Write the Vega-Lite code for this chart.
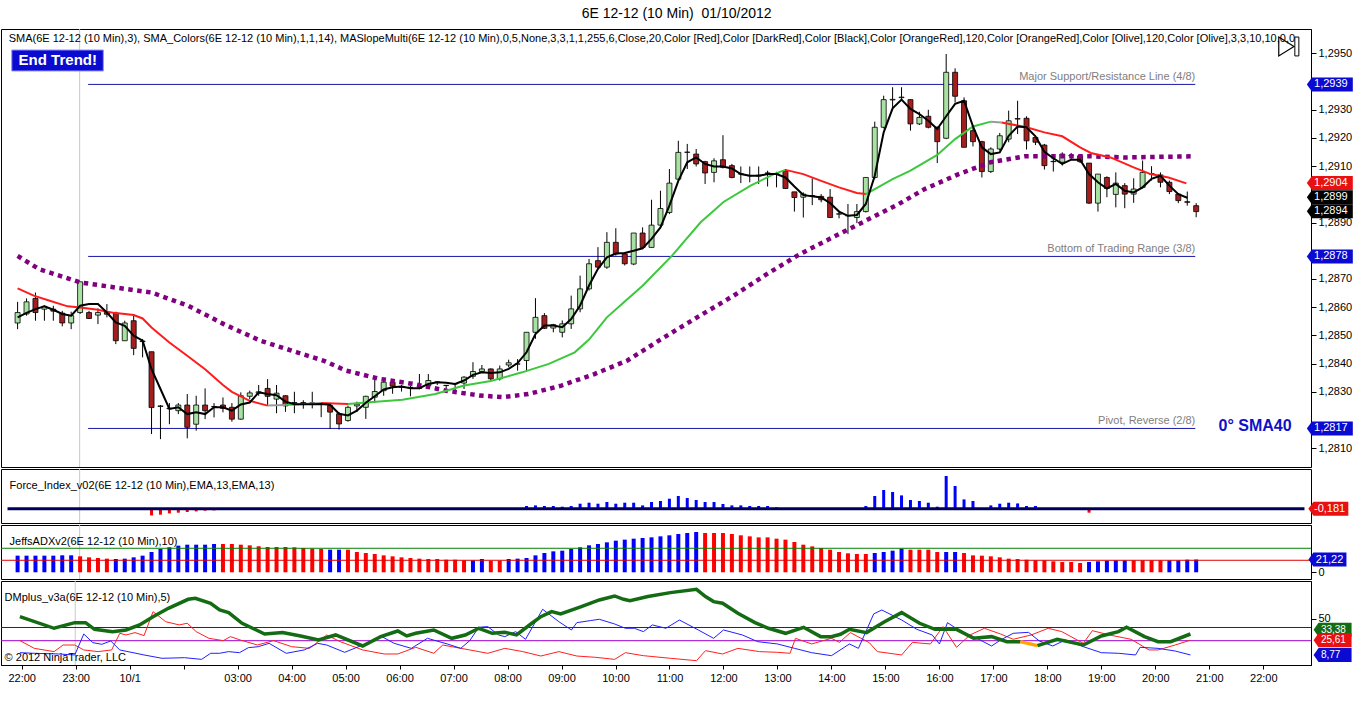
{
  "$schema": "https://vega.github.io/schema/vega-lite/v6.json",
  "background": "#ffffff",
  "padding": {"left": 0, "top": 7, "right": 0, "bottom": 0},
  "title": {"text": "6E 12-12 (10 Min)\u00a0 01/10/2012", "font": "Liberation Sans", "fontSize": 14, "fontWeight": "normal", "color": "#000000", "anchor": "middle", "offset": 7},
  "spacing": 0,
  "config": {
    "view": {"stroke": "#000000", "strokeWidth": 1},
    "concat": {"spacing": 0},
    "axis": {"labelFont": "Liberation Sans", "labelFontSize": 11, "labelColor": "#000000", "domainColor": "#000000", "tickColor": "#000000", "grid": false, "tickSize": 5, "labelPadding": 2},
    "text": {"font": "Liberation Sans"}
  },
  "datasets": {
    "candles": [
      {"i":0,"o":1.28544,"h":1.28619,"l":1.28522,"c":1.28581},
      {"i":1,"o":1.28576,"h":1.28631,"l":1.28570,"c":1.28619},
      {"i":2,"o":1.28631,"h":1.28652,"l":1.28552,"c":1.28581},
      {"i":3,"o":1.28593,"h":1.28607,"l":1.28552,"c":1.28603},
      {"i":4,"o":1.28593,"h":1.28605,"l":1.28552,"c":1.28586},
      {"i":5,"o":1.28579,"h":1.28587,"l":1.28532,"c":1.28544},
      {"i":6,"o":1.28544,"h":1.28584,"l":1.28522,"c":1.28570},
      {"i":7,"o":1.28581,"h":1.28690,"l":1.28576,"c":1.28690},
      {"i":8,"o":1.28581,"h":1.28587,"l":1.28558,"c":1.28560},
      {"i":9,"o":1.28572,"h":1.28596,"l":1.28540,"c":1.28581},
      {"i":10,"o":1.28584,"h":1.28611,"l":1.28564,"c":1.28575},
      {"i":11,"o":1.28579,"h":1.28584,"l":1.28469,"c":1.28481},
      {"i":12,"o":1.28481,"h":1.28552,"l":1.28481,"c":1.28544},
      {"i":13,"o":1.28552,"h":1.28575,"l":1.28430,"c":1.28454},
      {"i":14,"o":1.28480,"h":1.28487,"l":1.28422,"c":1.28478},
      {"i":15,"o":1.28442,"h":1.28442,"l":1.28150,"c":1.28244},
      {"i":16,"o":1.28248,"h":1.28253,"l":1.28132,"c":1.28250},
      {"i":17,"o":1.28242,"h":1.28260,"l":1.28185,"c":1.28240},
      {"i":18,"o":1.28233,"h":1.28260,"l":1.28221,"c":1.28253},
      {"i":19,"o":1.28253,"h":1.28292,"l":1.28135,"c":1.28174},
      {"i":20,"o":1.28185,"h":1.28286,"l":1.28162,"c":1.28253},
      {"i":21,"o":1.28253,"h":1.28312,"l":1.28203,"c":1.28233},
      {"i":22,"o":1.28247,"h":1.28260,"l":1.28209,"c":1.28248},
      {"i":23,"o":1.28253,"h":1.28280,"l":1.28227,"c":1.28241},
      {"i":24,"o":1.28245,"h":1.28260,"l":1.28194,"c":1.28203},
      {"i":25,"o":1.28203,"h":1.28298,"l":1.28201,"c":1.28286},
      {"i":26,"o":1.28284,"h":1.28304,"l":1.28274,"c":1.28296},
      {"i":27,"o":1.28295,"h":1.28324,"l":1.28286,"c":1.28300},
      {"i":28,"o":1.28312,"h":1.28345,"l":1.28250,"c":1.28284},
      {"i":29,"o":1.28274,"h":1.28324,"l":1.28224,"c":1.28295},
      {"i":30,"o":1.28286,"h":1.28288,"l":1.28229,"c":1.28250},
      {"i":31,"o":1.28260,"h":1.28300,"l":1.28224,"c":1.28262},
      {"i":32,"o":1.28262,"h":1.28270,"l":1.28240,"c":1.28256},
      {"i":33,"o":1.28260,"h":1.28300,"l":1.28241,"c":1.28261},
      {"i":34,"o":1.28260,"h":1.28262,"l":1.28210,"c":1.28258},
      {"i":35,"o":1.28251,"h":1.28257,"l":1.28168,"c":1.28228},
      {"i":36,"o":1.28222,"h":1.28228,"l":1.28166,"c":1.28186},
      {"i":37,"o":1.28198,"h":1.28251,"l":1.28194,"c":1.28245},
      {"i":38,"o":1.28250,"h":1.28265,"l":1.28228,"c":1.28256},
      {"i":39,"o":1.28245,"h":1.28286,"l":1.28204,"c":1.28284},
      {"i":40,"o":1.28281,"h":1.28346,"l":1.28261,"c":1.28301},
      {"i":41,"o":1.28304,"h":1.28340,"l":1.28286,"c":1.28334},
      {"i":42,"o":1.28334,"h":1.28340,"l":1.28293,"c":1.28320},
      {"i":43,"o":1.28316,"h":1.28324,"l":1.28301,"c":1.28317},
      {"i":44,"o":1.28316,"h":1.28322,"l":1.28284,"c":1.28315},
      {"i":45,"o":1.28312,"h":1.28363,"l":1.28309,"c":1.28313},
      {"i":46,"o":1.28322,"h":1.28363,"l":1.28310,"c":1.28340},
      {"i":47,"o":1.28334,"h":1.28336,"l":1.28324,"c":1.28335},
      {"i":48,"o":1.28322,"h":1.28324,"l":1.28298,"c":1.28323},
      {"i":49,"o":1.28328,"h":1.28328,"l":1.28292,"c":1.28329},
      {"i":50,"o":1.28331,"h":1.28355,"l":1.28310,"c":1.28352},
      {"i":51,"o":1.28355,"h":1.28405,"l":1.28346,"c":1.28372},
      {"i":52,"o":1.28372,"h":1.28395,"l":1.28367,"c":1.28381},
      {"i":53,"o":1.28381,"h":1.28383,"l":1.28340,"c":1.28346},
      {"i":54,"o":1.28346,"h":1.28393,"l":1.28340,"c":1.28381},
      {"i":55,"o":1.28395,"h":1.28414,"l":1.28387,"c":1.28403},
      {"i":56,"o":1.28398,"h":1.28416,"l":1.28375,"c":1.28399},
      {"i":57,"o":1.28411,"h":1.28511,"l":1.28372,"c":1.28511},
      {"i":58,"o":1.28511,"h":1.28632,"l":1.28488,"c":1.28564},
      {"i":59,"o":1.28570,"h":1.28579,"l":1.28523,"c":1.28525},
      {"i":60,"o":1.28526,"h":1.28541,"l":1.28511,"c":1.28538},
      {"i":61,"o":1.28511,"h":1.28553,"l":1.28493,"c":1.28541},
      {"i":62,"o":1.28541,"h":1.28641,"l":1.28523,"c":1.28594},
      {"i":63,"o":1.28594,"h":1.28712,"l":1.28582,"c":1.28665},
      {"i":64,"o":1.28665,"h":1.28771,"l":1.28659,"c":1.28754},
      {"i":65,"o":1.28765,"h":1.28813,"l":1.28736,"c":1.28742},
      {"i":66,"o":1.28742,"h":1.28866,"l":1.28736,"c":1.28830},
      {"i":67,"o":1.28830,"h":1.28880,"l":1.28783,"c":1.28789},
      {"i":68,"o":1.28789,"h":1.28795,"l":1.28748,"c":1.28754},
      {"i":69,"o":1.28753,"h":1.28863,"l":1.28749,"c":1.28863},
      {"i":70,"o":1.28863,"h":1.28883,"l":1.28806,"c":1.28812},
      {"i":71,"o":1.28812,"h":1.28981,"l":1.28812,"c":1.28891},
      {"i":72,"o":1.28891,"h":1.29013,"l":1.28889,"c":1.28950},
      {"i":73,"o":1.28936,"h":1.29090,"l":1.28930,"c":1.29040},
      {"i":74,"o":1.29054,"h":1.29190,"l":1.29048,"c":1.29149},
      {"i":75,"o":1.29149,"h":1.29179,"l":1.29090,"c":1.29150},
      {"i":76,"o":1.29143,"h":1.29161,"l":1.29099,"c":1.29108},
      {"i":77,"o":1.29116,"h":1.29119,"l":1.29037,"c":1.29076},
      {"i":78,"o":1.29078,"h":1.29128,"l":1.29043,"c":1.29119},
      {"i":79,"o":1.29123,"h":1.29210,"l":1.29092,"c":1.29096},
      {"i":80,"o":1.29102,"h":1.29108,"l":1.29057,"c":1.29060},
      {"i":81,"o":1.29072,"h":1.29099,"l":1.29040,"c":1.29073},
      {"i":82,"o":1.29066,"h":1.29099,"l":1.29043,"c":1.29067},
      {"i":83,"o":1.29065,"h":1.29099,"l":1.29037,"c":1.29068},
      {"i":84,"o":1.29076,"h":1.29084,"l":1.29028,"c":1.29075},
      {"i":85,"o":1.29072,"h":1.29080,"l":1.29025,"c":1.29073},
      {"i":86,"o":1.29084,"h":1.29090,"l":1.29019,"c":1.29021},
      {"i":87,"o":1.29009,"h":1.29009,"l":1.28939,"c":1.28989},
      {"i":88,"o":1.28990,"h":1.29007,"l":1.28918,"c":1.29001},
      {"i":89,"o":1.28995,"h":1.29057,"l":1.28962,"c":1.28996},
      {"i":90,"o":1.28993,"h":1.29001,"l":1.28972,"c":1.28981},
      {"i":91,"o":1.28990,"h":1.29019,"l":1.28918,"c":1.28918},
      {"i":92,"o":1.28930,"h":1.28942,"l":1.28915,"c":1.28931},
      {"i":93,"o":1.28924,"h":1.28966,"l":1.28859,"c":1.28925},
      {"i":94,"o":1.28918,"h":1.28966,"l":1.28898,"c":1.28939},
      {"i":95,"o":1.28939,"h":1.29060,"l":1.28936,"c":1.29060},
      {"i":96,"o":1.29060,"h":1.29258,"l":1.29054,"c":1.29238},
      {"i":97,"o":1.29238,"h":1.29350,"l":1.29234,"c":1.29336},
      {"i":98,"o":1.29335,"h":1.29380,"l":1.29303,"c":1.29337},
      {"i":99,"o":1.29343,"h":1.29380,"l":1.29332,"c":1.29345},
      {"i":100,"o":1.29336,"h":1.29336,"l":1.29226,"c":1.29250},
      {"i":101,"o":1.29250,"h":1.29293,"l":1.29246,"c":1.29273},
      {"i":102,"o":1.29277,"h":1.29300,"l":1.29234,"c":1.29238},
      {"i":103,"o":1.29238,"h":1.29241,"l":1.29111,"c":1.29187},
      {"i":104,"o":1.29199,"h":1.29498,"l":1.29196,"c":1.29433},
      {"i":105,"o":1.29433,"h":1.29447,"l":1.29326,"c":1.29348},
      {"i":106,"o":1.29332,"h":1.29344,"l":1.29167,"c":1.29167},
      {"i":107,"o":1.29226,"h":1.29241,"l":1.29170,"c":1.29187},
      {"i":108,"o":1.29187,"h":1.29190,"l":1.29060,"c":1.29081},
      {"i":109,"o":1.29081,"h":1.29167,"l":1.29076,"c":1.29161},
      {"i":110,"o":1.29161,"h":1.29218,"l":1.29155,"c":1.29208},
      {"i":111,"o":1.29196,"h":1.29297,"l":1.29185,"c":1.29261},
      {"i":112,"o":1.29267,"h":1.29332,"l":1.29214,"c":1.29269},
      {"i":113,"o":1.29270,"h":1.29277,"l":1.29159,"c":1.29190},
      {"i":114,"o":1.29202,"h":1.29208,"l":1.29175,"c":1.29185},
      {"i":115,"o":1.29175,"h":1.29179,"l":1.29088,"c":1.29102},
      {"i":116,"o":1.29116,"h":1.29143,"l":1.29081,"c":1.29117},
      {"i":117,"o":1.29114,"h":1.29149,"l":1.29102,"c":1.29143},
      {"i":118,"o":1.29137,"h":1.29147,"l":1.29123,"c":1.29138},
      {"i":119,"o":1.29137,"h":1.29143,"l":1.29111,"c":1.29116},
      {"i":120,"o":1.29111,"h":1.29111,"l":1.28966,"c":1.28969},
      {"i":121,"o":1.28969,"h":1.29072,"l":1.28939,"c":1.29072},
      {"i":122,"o":1.29060,"h":1.29064,"l":1.28990,"c":1.29021},
      {"i":123,"o":1.29000,"h":1.29078,"l":1.28954,"c":1.29040},
      {"i":124,"o":1.29031,"h":1.29040,"l":1.28951,"c":1.29001},
      {"i":125,"o":1.29001,"h":1.29057,"l":1.28970,"c":1.29019},
      {"i":126,"o":1.29025,"h":1.29120,"l":1.29021,"c":1.29078},
      {"i":127,"o":1.29074,"h":1.29100,"l":1.29049,"c":1.29072},
      {"i":128,"o":1.29069,"h":1.29078,"l":1.29025,"c":1.29043},
      {"i":129,"o":1.29043,"h":1.29049,"l":1.29001,"c":1.29010},
      {"i":130,"o":1.29001,"h":1.29005,"l":1.28969,"c":1.28978},
      {"i":131,"o":1.28974,"h":1.29010,"l":1.28960,"c":1.28972},
      {"i":132,"o":1.28960,"h":1.28969,"l":1.28919,"c":1.28939}
    ],
    "sma3": [
      {"i":0,"v":1.28564},{"i":1,"v":1.28580},{"i":2,"v":1.28593},{"i":3,"v":1.28603},{"i":4,"v":1.28591},{"i":5,"v":1.28576},{"i":6,"v":1.28570},{"i":7,"v":1.28605},{"i":8,"v":1.28611},{"i":9,"v":1.28611},
      {"i":10,"v":1.28581},{"i":11,"v":1.28546},{"i":12,"v":1.28534},{"i":13,"v":1.28499},{"i":14,"v":1.28481},{"i":15,"v":1.28380},{"i":16,"v":1.28310},{"i":17,"v":1.28239},{"i":18,"v":1.28245},{"i":19,"v":1.28221},
      {"i":20,"v":1.28227},{"i":21,"v":1.28221},{"i":22,"v":1.28245},{"i":23,"v":1.28245},{"i":24,"v":1.28233},{"i":25,"v":1.28255},{"i":26,"v":1.28262},{"i":27,"v":1.28298},{"i":28,"v":1.28292},{"i":29,"v":1.28288},
      {"i":30,"v":1.28265},{"i":31,"v":1.28256},{"i":32,"v":1.28256},{"i":33,"v":1.28256},{"i":34,"v":1.28257},{"i":35,"v":1.28254},{"i":36,"v":1.28222},{"i":37,"v":1.28216},{"i":38,"v":1.28233},{"i":39,"v":1.28261},
      {"i":40,"v":1.28284},{"i":41,"v":1.28308},{"i":42,"v":1.28316},{"i":43,"v":1.28319},{"i":44,"v":1.28313},{"i":45,"v":1.28313},{"i":46,"v":1.28328},{"i":47,"v":1.28334},{"i":48,"v":1.28332},{"i":49,"v":1.28328},
      {"i":50,"v":1.28340},{"i":51,"v":1.28360},{"i":52,"v":1.28369},{"i":53,"v":1.28367},{"i":54,"v":1.28369},{"i":55,"v":1.28381},{"i":56,"v":1.28402},{"i":57,"v":1.28440},{"i":58,"v":1.28505},{"i":59,"v":1.28535},
      {"i":60,"v":1.28535},{"i":61,"v":1.28529},{"i":62,"v":1.28558},{"i":63,"v":1.28606},{"i":64,"v":1.28677},{"i":65,"v":1.28736},{"i":66,"v":1.28777},{"i":67,"v":1.28790},{"i":68,"v":1.28792},{"i":69,"v":1.28800},
      {"i":70,"v":1.28809},{"i":71,"v":1.28842},{"i":72,"v":1.28883},{"i":73,"v":1.28960},{"i":74,"v":1.29048},{"i":75,"v":1.29114},{"i":76,"v":1.29131},{"i":77,"v":1.29108},{"i":78,"v":1.29099},{"i":79,"v":1.29099},
      {"i":80,"v":1.29092},{"i":81,"v":1.29072},{"i":82,"v":1.29066},{"i":83,"v":1.29066},{"i":84,"v":1.29072},{"i":85,"v":1.29072},{"i":86,"v":1.29060},{"i":87,"v":1.29028},{"i":88,"v":1.28998},{"i":89,"v":1.28993},
      {"i":90,"v":1.28989},{"i":91,"v":1.28969},{"i":92,"v":1.28939},{"i":93,"v":1.28924},{"i":94,"v":1.28927},{"i":95,"v":1.28966},{"i":96,"v":1.29066},{"i":97,"v":1.29220},{"i":98,"v":1.29305},{"i":99,"v":1.29336},
      {"i":100,"v":1.29303},{"i":101,"v":1.29285},{"i":102,"v":1.29261},{"i":103,"v":1.29232},{"i":104,"v":1.29277},{"i":105,"v":1.29321},{"i":106,"v":1.29332},{"i":107,"v":1.29241},{"i":108,"v":1.29167},{"i":109,"v":1.29143},
      {"i":110,"v":1.29149},{"i":111,"v":1.29208},{"i":112,"v":1.29241},{"i":113,"v":1.29238},{"i":114,"v":1.29206},{"i":115,"v":1.29151},{"i":116,"v":1.29128},{"i":117,"v":1.29108},{"i":118,"v":1.29123},{"i":119,"v":1.29123},
      {"i":120,"v":1.29072},{"i":121,"v":1.29043},{"i":122,"v":1.29021},{"i":123,"v":1.29037},{"i":124,"v":1.29013},{"i":125,"v":1.29007},{"i":126,"v":1.29025},{"i":127,"v":1.29055},{"i":128,"v":1.29066},{"i":129,"v":1.29031},
      {"i":130,"v":1.29001},{"i":131,"v":1.28988}
    ],
    "sma20": [
      {"seg":"A","trend":"down","i":0,"v":1.28667},{"seg":"A","trend":"down","i":1.8,"v":1.28641},{"seg":"A","trend":"down","i":3.6,"v":1.28623},{"seg":"A","trend":"down","i":5.6,"v":1.28603},{"seg":"A","trend":"down","i":7,"v":1.28599},
      {"seg":"A","trend":"down","i":9,"v":1.28591},{"seg":"A","trend":"down","i":10,"v":1.28584},{"seg":"A","trend":"down","i":11,"v":1.28579},{"seg":"A","trend":"down","i":13,"v":1.28572},{"seg":"A","trend":"down","i":14,"v":1.28560},
      {"seg":"A","trend":"down","i":15,"v":1.28528},{"seg":"A","trend":"down","i":17,"v":1.28475},{"seg":"A","trend":"down","i":19,"v":1.28428},{"seg":"A","trend":"down","i":21,"v":1.28380},{"seg":"A","trend":"down","i":23,"v":1.28324},
      {"seg":"A","trend":"down","i":24,"v":1.28300},{"seg":"A","trend":"down","i":26,"v":1.28268},{"seg":"A","trend":"down","i":28,"v":1.28251},
      {"seg":"B","trend":"flat","i":28,"v":1.28251},{"seg":"B","trend":"flat","i":30,"v":1.28253},
      {"seg":"C","trend":"up","i":30,"v":1.28253},{"seg":"C","trend":"up","i":32,"v":1.28257},
      {"seg":"D","trend":"flat","i":32,"v":1.28257},{"seg":"D","trend":"flat","i":34,"v":1.28260},
      {"seg":"E","trend":"down","i":34,"v":1.28260},{"seg":"E","trend":"down","i":37,"v":1.28257},
      {"seg":"F","trend":"up","i":37,"v":1.28257},{"seg":"F","trend":"up","i":39.4,"v":1.28263},{"seg":"F","trend":"up","i":43.1,"v":1.28272},{"seg":"F","trend":"up","i":46.8,"v":1.28292},{"seg":"F","trend":"up","i":50,"v":1.28322},
      {"seg":"F","trend":"up","i":53,"v":1.28338},{"seg":"F","trend":"up","i":56.5,"v":1.28369},{"seg":"F","trend":"up","i":59.5,"v":1.28399},{"seg":"F","trend":"up","i":62.4,"v":1.28440},{"seg":"F","trend":"up","i":64,"v":1.28485},
      {"seg":"F","trend":"up","i":66,"v":1.28564},{"seg":"F","trend":"up","i":68,"v":1.28620},{"seg":"F","trend":"up","i":70,"v":1.28676},{"seg":"F","trend":"up","i":73.3,"v":1.28783},{"seg":"F","trend":"up","i":76.5,"v":1.28901},
      {"seg":"F","trend":"up","i":79.1,"v":1.28974},{"seg":"F","trend":"up","i":82.1,"v":1.29031},{"seg":"F","trend":"up","i":84.7,"v":1.29072},{"seg":"F","trend":"up","i":86,"v":1.29087},
      {"seg":"G","trend":"down","i":86,"v":1.29087},{"seg":"G","trend":"down","i":88,"v":1.29072},{"seg":"G","trend":"down","i":90,"v":1.29048},{"seg":"G","trend":"down","i":92,"v":1.29025},{"seg":"G","trend":"down","i":94,"v":1.29005},{"seg":"G","trend":"down","i":95,"v":1.29001},
      {"seg":"H","trend":"up","i":95,"v":1.29001},{"seg":"H","trend":"up","i":96,"v":1.29019},{"seg":"H","trend":"up","i":98,"v":1.29054},{"seg":"H","trend":"up","i":100,"v":1.29084},{"seg":"H","trend":"up","i":103,"v":1.29140},
      {"seg":"H","trend":"up","i":105,"v":1.29196},{"seg":"H","trend":"up","i":107,"v":1.29241},{"seg":"H","trend":"up","i":109,"v":1.29258},
      {"seg":"I","trend":"flat","i":109,"v":1.29258},{"seg":"I","trend":"flat","i":110.2,"v":1.29255},
      {"seg":"J","trend":"down","i":110.2,"v":1.29255},{"seg":"J","trend":"down","i":113,"v":1.29238},{"seg":"J","trend":"down","i":115,"v":1.29220},{"seg":"J","trend":"down","i":117,"v":1.29206},{"seg":"J","trend":"down","i":119,"v":1.29167},
      {"seg":"J","trend":"down","i":120.2,"v":1.29147},{"seg":"J","trend":"down","i":122.4,"v":1.29131},{"seg":"J","trend":"down","i":125,"v":1.29096},{"seg":"J","trend":"down","i":126.9,"v":1.29072},{"seg":"J","trend":"down","i":128.9,"v":1.29060},
      {"seg":"J","trend":"down","i":130.9,"v":1.29039}
    ],
    "sma40": [
      {"i":0,"v":1.28782},{"i":2.4,"v":1.28735},{"i":7,"v":1.28688},{"i":10.9,"v":1.28670},{"i":15,"v":1.28652},{"i":19.1,"v":1.28605},{"i":23.1,"v":1.28540},{"i":27.2,"v":1.28481},
      {"i":31.3,"v":1.28440},{"i":34.3,"v":1.28410},{"i":36.8,"v":1.28375},{"i":40.5,"v":1.28346},{"i":44.3,"v":1.28328},{"i":48,"v":1.28304},{"i":51.7,"v":1.28287},{"i":54.3,"v":1.28281},
      {"i":57.2,"v":1.28292},{"i":60.9,"v":1.28322},{"i":64.6,"v":1.28363},{"i":68.3,"v":1.28411},{"i":72,"v":1.28485},{"i":76.1,"v":1.28564},{"i":80.2,"v":1.28641},{"i":83.9,"v":1.28717},
      {"i":87.6,"v":1.28788},{"i":91.3,"v":1.28848},{"i":95,"v":1.28907},{"i":98.7,"v":1.28966},{"i":101.6,"v":1.29019},{"i":105.4,"v":1.29072},{"i":109,"v":1.29114},{"i":112.8,"v":1.29135},
      {"i":116.5,"v":1.29135},{"i":120.2,"v":1.29135},{"i":123.9,"v":1.29131},{"i":131.6,"v":1.29135}
    ],
    "levels": [
      {"v":1.2939,"label":"Major Support/Resistance Line (4/8)"},
      {"v":1.2878,"label":"Bottom of Trading Range (3/8)"},
      {"v":1.2817,"label":"Pivot, Reverse (2/8)"}
    ],
    "pflags": [
      {"v":1.2939,"t":"1,2939","kind":"level"},
      {"v":1.2904,"t":"1,2904","kind":"sma20"},
      {"v":1.2899,"t":"1,2899","kind":"sma3"},
      {"v":1.2894,"t":"1,2894","kind":"close"},
      {"v":1.2878,"t":"1,2878","kind":"level"},
      {"v":1.2817,"t":"1,2817","kind":"level"}
    ],
    "force": [
      {"i":0,"v":-0.5},{"i":13,"v":-0.5},{"i":15,"v":-6.7},{"i":16,"v":-6},{"i":17,"v":-4.7},{"i":18,"v":-4},{"i":19,"v":-3.3},{"i":20,"v":-2.7},{"i":21,"v":-2},{"i":22,"v":-1.7},{"i":23,"v":-1.3},{"i":24,"v":-1},{"i":25,"v":-0.7},
      {"i":57,"v":2.7},{"i":58,"v":3.3},{"i":59,"v":2.7},{"i":60,"v":2.7},{"i":61,"v":2},{"i":62,"v":2.7},{"i":63,"v":5},{"i":64,"v":6},{"i":65,"v":5},{"i":66,"v":6.7},{"i":67,"v":5},{"i":68,"v":6},{"i":69,"v":6},
      {"i":70,"v":3.3},{"i":71,"v":6.7},{"i":72,"v":7.7},{"i":73,"v":10},{"i":74,"v":12.7},{"i":75,"v":10.7},{"i":76,"v":8.7},{"i":77,"v":6.7},{"i":78,"v":6.7},{"i":79,"v":4.7},{"i":80,"v":3.3},{"i":81,"v":3.3},
      {"i":82,"v":2.7},{"i":83,"v":2.7},{"i":84,"v":2.7},{"i":85,"v":1.3},{"i":91,"v":-0.3},{"i":92,"v":-0.3},{"i":93,"v":-0.3},
      {"i":95,"v":2.7},{"i":96,"v":12.7},{"i":97,"v":18.7},{"i":98,"v":16.7},{"i":99,"v":13.3},{"i":100,"v":8.7},{"i":101,"v":7.7},{"i":102,"v":6},{"i":103,"v":2},{"i":104,"v":32.7},{"i":105,"v":22.7},
      {"i":106,"v":9.3},{"i":107,"v":7.7},{"i":109,"v":3.3},{"i":110,"v":5},{"i":111,"v":6},{"i":112,"v":5.3},{"i":113,"v":2.7},{"i":114,"v":2.7},
      {"i":120,"v":-4},{"i":121,"v":-1.3},{"i":122,"v":-1.3},{"i":123,"v":-0.7},{"i":124,"v":-0.7},{"i":131,"v":-0.7}
    ],
    "adx": [
      {"i":0,"v":27.7,"d":"up"},{"i":1,"v":27.7,"d":"up"},{"i":2,"v":27.7,"d":"up"},{"i":3,"v":27.7,"d":"up"},{"i":4,"v":27.7,"d":"up"},{"i":5,"v":28.3,"d":"up"},{"i":6,"v":28.3,"d":"up"},
      {"i":7,"v":26.6,"d":"dn"},{"i":8,"v":24.9,"d":"dn"},{"i":9,"v":23.8,"d":"dn"},{"i":10,"v":22.7,"d":"dn"},{"i":11,"v":22.1,"d":"up"},{"i":12,"v":22.7,"d":"up"},{"i":13,"v":24.9,"d":"up"},
      {"i":14,"v":27.7,"d":"up"},{"i":15,"v":33.8,"d":"up"},{"i":16,"v":38.8,"d":"up"},{"i":17,"v":41.6,"d":"up"},{"i":18,"v":44.4,"d":"up"},{"i":19,"v":46.0,"d":"up"},{"i":20,"v":46.0,"d":"up"},
      {"i":21,"v":46.0,"d":"up"},{"i":22,"v":47.1,"d":"up"},{"i":23,"v":47.1,"d":"dn"},{"i":24,"v":47.1,"d":"dn"},{"i":25,"v":46.0,"d":"dn"},{"i":26,"v":44.9,"d":"dn"},{"i":27,"v":43.2,"d":"dn"},
      {"i":28,"v":42.1,"d":"dn"},{"i":29,"v":42.1,"d":"dn"},{"i":30,"v":42.1,"d":"dn"},{"i":31,"v":41.6,"d":"dn"},{"i":32,"v":40.5,"d":"dn"},{"i":33,"v":39.4,"d":"dn"},{"i":34,"v":38.8,"d":"dn"},
      {"i":35,"v":37.7,"d":"up"},{"i":36,"v":37.7,"d":"up"},{"i":37,"v":37.7,"d":"dn"},{"i":38,"v":33.8,"d":"dn"},{"i":39,"v":32.1,"d":"dn"},{"i":40,"v":30.5,"d":"dn"},{"i":41,"v":28.2,"d":"dn"},
      {"i":42,"v":26.6,"d":"dn"},{"i":43,"v":24.9,"d":"dn"},{"i":44,"v":23.8,"d":"dn"},{"i":45,"v":22.7,"d":"dn"},{"i":46,"v":22.1,"d":"dn"},{"i":47,"v":22.1,"d":"dn"},{"i":48,"v":21.0,"d":"dn"},
      {"i":49,"v":21.0,"d":"dn"},{"i":50,"v":19.9,"d":"dn"},{"i":51,"v":19.9,"d":"up"},{"i":52,"v":22.1,"d":"up"},{"i":53,"v":19.4,"d":"dn"},{"i":54,"v":19.4,"d":"dn"},{"i":55,"v":22.1,"d":"up"},
      {"i":56,"v":22.7,"d":"up"},{"i":57,"v":23.8,"d":"up"},{"i":58,"v":28.2,"d":"up"},{"i":59,"v":32.1,"d":"up"},{"i":60,"v":34.9,"d":"up"},{"i":61,"v":36.0,"d":"up"},{"i":62,"v":38.8,"d":"up"},
      {"i":63,"v":41.6,"d":"up"},{"i":64,"v":44.9,"d":"up"},{"i":65,"v":47.1,"d":"up"},{"i":66,"v":49.9,"d":"up"},{"i":67,"v":52.7,"d":"up"},{"i":68,"v":54.4,"d":"up"},{"i":69,"v":56.0,"d":"up"},
      {"i":70,"v":57.1,"d":"up"},{"i":71,"v":58.2,"d":"up"},{"i":72,"v":59.9,"d":"up"},{"i":73,"v":61.6,"d":"up"},{"i":74,"v":63.8,"d":"up"},{"i":75,"v":65.5,"d":"up"},{"i":76,"v":67.1,"d":"up"},
      {"i":77,"v":65.5,"d":"dn"},{"i":78,"v":65.5,"d":"dn"},{"i":79,"v":65.5,"d":"dn"},{"i":80,"v":63.8,"d":"dn"},{"i":81,"v":61.6,"d":"dn"},{"i":82,"v":59.9,"d":"dn"},{"i":83,"v":58.2,"d":"dn"},
      {"i":84,"v":58.2,"d":"dn"},{"i":85,"v":56.0,"d":"dn"},{"i":86,"v":54.4,"d":"dn"},{"i":87,"v":50.5,"d":"dn"},{"i":88,"v":46.0,"d":"dn"},{"i":89,"v":43.2,"d":"dn"},{"i":90,"v":40.5,"d":"dn"},
      {"i":91,"v":37.7,"d":"dn"},{"i":92,"v":33.8,"d":"dn"},{"i":93,"v":31.6,"d":"dn"},{"i":94,"v":30.5,"d":"dn"},{"i":95,"v":30.5,"d":"dn"},{"i":96,"v":32.1,"d":"up"},{"i":97,"v":33.8,"d":"up"},
      {"i":98,"v":36.0,"d":"up"},{"i":99,"v":39.4,"d":"up"},{"i":100,"v":37.7,"d":"dn"},{"i":101,"v":37.7,"d":"dn"},{"i":102,"v":37.7,"d":"dn"},{"i":103,"v":33.8,"d":"dn"},{"i":104,"v":33.8,"d":"up"},
      {"i":105,"v":33.8,"d":"up"},{"i":106,"v":32.1,"d":"dn"},{"i":107,"v":28.2,"d":"dn"},{"i":108,"v":27.7,"d":"dn"},{"i":109,"v":26.6,"d":"dn"},{"i":110,"v":24.9,"d":"dn"},{"i":111,"v":22.7,"d":"dn"},
      {"i":112,"v":22.1,"d":"dn"},{"i":113,"v":21.0,"d":"dn"},{"i":114,"v":19.9,"d":"dn"},{"i":115,"v":19.9,"d":"dn"},{"i":116,"v":18.3,"d":"dn"},{"i":117,"v":17.1,"d":"dn"},{"i":118,"v":17.1,"d":"dn"},
      {"i":119,"v":15.5,"d":"dn"},{"i":120,"v":17.1,"d":"up"},{"i":121,"v":18.3,"d":"up"},{"i":122,"v":19.4,"d":"up"},{"i":123,"v":19.9,"d":"up"},{"i":124,"v":19.9,"d":"up"},{"i":125,"v":19.9,"d":"dn"},
      {"i":126,"v":19.9,"d":"dn"},{"i":127,"v":19.9,"d":"dn"},{"i":128,"v":19.9,"d":"dn"},{"i":129,"v":19.9,"d":"up"},{"i":130,"v":19.9,"d":"up"},{"i":131,"v":21.0,"d":"up"},{"i":132,"v":21.2,"d":"up"}
    ],
    "dmg": [
      {"seg":"g1","tone":"green","i":0.8,"v":52.3},{"seg":"g1","tone":"green","i":4.6,"v":39.1},{"seg":"g1","tone":"green","i":6.9,"v":45.5},{"seg":"g1","tone":"green","i":8.1,"v":45.5},{"seg":"g1","tone":"green","i":9.1,"v":37.9},
      {"seg":"g1","tone":"green","i":11.1,"v":35.3},{"seg":"g1","tone":"green","i":12.6,"v":37.2},{"seg":"g1","tone":"green","i":14.1,"v":42.9},{"seg":"g1","tone":"green","i":15.6,"v":52.3},{"seg":"g1","tone":"green","i":17.3,"v":61.8},
      {"seg":"g1","tone":"green","i":19.5,"v":72.0},{"seg":"g1","tone":"green","i":20.3,"v":73.2},{"seg":"g1","tone":"green","i":22,"v":67.5},{"seg":"g1","tone":"green","i":23,"v":59.9},{"seg":"g1","tone":"green","i":24,"v":56.9},
      {"seg":"g1","tone":"green","i":25.5,"v":44.8},{"seg":"g1","tone":"green","i":28,"v":32.6},{"seg":"g1","tone":"green","i":30,"v":34.2},{"seg":"g1","tone":"green","i":32,"v":30.4},{"seg":"g1","tone":"green","i":34,"v":25.8},
      {"seg":"g1","tone":"green","i":35.9,"v":31.5},{"seg":"g1","tone":"green","i":38.9,"v":19.0},{"seg":"g1","tone":"green","i":40.9,"v":29.6},{"seg":"g1","tone":"green","i":42.8,"v":36.0},{"seg":"g1","tone":"green","i":43.8,"v":30.4},
      {"seg":"g1","tone":"green","i":44.8,"v":33.4},{"seg":"g1","tone":"green","i":46.8,"v":37.2},{"seg":"g1","tone":"green","i":48.8,"v":27.7},{"seg":"g1","tone":"green","i":50.3,"v":31.5},{"seg":"g1","tone":"green","i":51.8,"v":39.1},
      {"seg":"g1","tone":"green","i":53.3,"v":33.4},{"seg":"g1","tone":"green","i":54.7,"v":34.5},{"seg":"g1","tone":"green","i":56,"v":31.5},{"seg":"g1","tone":"green","i":57.7,"v":44.8},{"seg":"g1","tone":"green","i":58.7,"v":52.3},
      {"seg":"g1","tone":"green","i":59.9,"v":58.0},{"seg":"g1","tone":"green","i":60.9,"v":55.4},{"seg":"g1","tone":"green","i":63.2,"v":63.7},{"seg":"g1","tone":"green","i":65.2,"v":71.3},{"seg":"g1","tone":"green","i":66.9,"v":75.8},
      {"seg":"g1","tone":"green","i":67.9,"v":72.0},{"seg":"g1","tone":"green","i":68.6,"v":70.5},{"seg":"g1","tone":"green","i":70.6,"v":75.1},{"seg":"g1","tone":"green","i":73.1,"v":79.6},{"seg":"g1","tone":"green","i":76,"v":83.4},
      {"seg":"g1","tone":"green","i":77,"v":75.1},{"seg":"g1","tone":"green","i":77.9,"v":69.4},{"seg":"g1","tone":"green","i":78.9,"v":67.5},{"seg":"g1","tone":"green","i":80.6,"v":56.1},{"seg":"g1","tone":"green","i":82.5,"v":45.5},
      {"seg":"g1","tone":"green","i":84,"v":39.1},{"seg":"g1","tone":"green","i":85.9,"v":33.4},{"seg":"g1","tone":"green","i":87.9,"v":40.2},{"seg":"g1","tone":"green","i":89.8,"v":29.6},{"seg":"g1","tone":"green","i":91,"v":29.6},
      {"seg":"g1","tone":"green","i":92,"v":32.3},{"seg":"g1","tone":"green","i":93,"v":37.9},{"seg":"g1","tone":"green","i":94.9,"v":34.2},{"seg":"g1","tone":"green","i":96.9,"v":46.6},{"seg":"g1","tone":"green","i":98.8,"v":56.9},
      {"seg":"g1","tone":"green","i":100.8,"v":44.8},{"seg":"g1","tone":"green","i":102.5,"v":37.9},{"seg":"g1","tone":"green","i":104.9,"v":37.9},{"seg":"g1","tone":"green","i":106.8,"v":27.7},{"seg":"g1","tone":"green","i":108.8,"v":29.6},
      {"seg":"g1","tone":"green","i":110.5,"v":23.9},{"seg":"g1","tone":"green","i":112,"v":23.9},
      {"seg":"g2","tone":"orange","i":112,"v":23.9},{"seg":"g2","tone":"orange","i":113.9,"v":19.4},
      {"seg":"g3","tone":"green","i":113.9,"v":19.4},{"seg":"g3","tone":"green","i":116.1,"v":26.6},{"seg":"g3","tone":"green","i":119,"v":20.1},{"seg":"g3","tone":"green","i":121,"v":30.4},{"seg":"g3","tone":"green","i":122.9,"v":35.3},
      {"seg":"g3","tone":"green","i":123.8,"v":40.2},{"seg":"g3","tone":"green","i":125.8,"v":29.6},{"seg":"g3","tone":"green","i":127.3,"v":23.9},{"seg":"g3","tone":"green","i":128.7,"v":23.9},{"seg":"g3","tone":"green","i":130.9,"v":32.6}
    ],
    "dmb": [
      {"i":0.8,"v":11.4},{"i":2.4,"v":10.7},{"i":5.1,"v":9.9},{"i":6.9,"v":8.8},{"i":7.9,"v":32.6},{"i":8.9,"v":22.8},{"i":9.9,"v":20.9},{"i":10.9,"v":24.7},{"i":11.9,"v":14.5},{"i":14.6,"v":8.8},
      {"i":16.6,"v":5.0},{"i":19.1,"v":5.7},{"i":21,"v":3.8},{"i":22,"v":10.7},{"i":23,"v":10.7},{"i":24,"v":12.6},{"i":25.2,"v":11.4},{"i":26.2,"v":17.1},{"i":27.3,"v":18.2},{"i":28.5,"v":22.0},
      {"i":30.4,"v":10.7},{"i":32.4,"v":14.5},{"i":33.9,"v":22.0},{"i":34.9,"v":20.1},{"i":36.9,"v":11.8},{"i":38.9,"v":20.1},{"i":40.9,"v":30.4},{"i":42.4,"v":22.0},{"i":44.3,"v":16.3},{"i":46.1,"v":27.7},
      {"i":48.3,"v":21.3},{"i":49.8,"v":16.3},{"i":50.8,"v":25.1},{"i":51.8,"v":40.2},{"i":52.8,"v":41.0},{"i":54,"v":31.5},{"i":54.7,"v":29.6},{"i":55.9,"v":35.3},{"i":57,"v":26.6},{"i":58.9,"v":60.7},
      {"i":60.7,"v":46.6},{"i":62.1,"v":37.2},{"i":62.7,"v":45.5},{"i":64.2,"v":47.8},{"i":65.2,"v":49.3},{"i":66.9,"v":44.0},{"i":68.1,"v":39.1},{"i":69.1,"v":39.1},{"i":70.1,"v":35.3},{"i":71.1,"v":42.9},
      {"i":72.6,"v":39.1},{"i":74.1,"v":48.5},{"i":76.2,"v":37.2},{"i":77.9,"v":27.7},{"i":79,"v":37.2},{"i":81.1,"v":31.5},{"i":82.8,"v":23.9},{"i":85,"v":21.3},{"i":86.9,"v":16.3},{"i":88.8,"v":11.4},
      {"i":91,"v":8.0},{"i":93,"v":21.3},{"i":94,"v":16.3},{"i":95.7,"v":55.4},{"i":96.6,"v":59.9},{"i":98.8,"v":48.5},{"i":100.5,"v":37.9},{"i":102.2,"v":31.5},{"i":103,"v":21.3},{"i":103.9,"v":45.5},
      {"i":105.4,"v":35.3},{"i":106.8,"v":29.6},{"i":108.8,"v":19.0},{"i":109.8,"v":25.8},{"i":111.2,"v":33.4},{"i":112.9,"v":34.5},{"i":114.1,"v":24.7},{"i":115.6,"v":19.0},{"i":117,"v":25.8},{"i":119,"v":18.2},
      {"i":121,"v":11.4},{"i":122.9,"v":10.7},{"i":124.8,"v":8.8},{"i":125.3,"v":17.5},{"i":127.3,"v":16.3},{"i":129.2,"v":13.3},{"i":130.9,"v":8.8}
    ],
    "dmr": [
      {"i":0.8,"v":25.1},{"i":2.4,"v":16.3},{"i":4.6,"v":12.6},{"i":5.6,"v":20.1},{"i":6.9,"v":20.1},{"i":7.9,"v":14.5},{"i":9.5,"v":12.6},{"i":11,"v":14.5},{"i":11.9,"v":33.4},{"i":12.6,"v":31.5},
      {"i":13.6,"v":34.2},{"i":14.6,"v":30.8},{"i":15.6,"v":58.0},{"i":17,"v":46.6},{"i":18.5,"v":42.9},{"i":19.4,"v":44.8},{"i":20.4,"v":35.3},{"i":21.8,"v":27.7},{"i":23.4,"v":25.1},{"i":24.2,"v":29.6},
      {"i":25.3,"v":25.8},{"i":27.2,"v":20.1},{"i":29,"v":25.1},{"i":31,"v":18.2},{"i":33,"v":16.3},{"i":34.9,"v":31.5},{"i":36.4,"v":23.9},{"i":38.9,"v":14.5},{"i":41.3,"v":9.9},{"i":42.8,"v":9.9},
      {"i":44.8,"v":17.5},{"i":46.8,"v":10.7},{"i":47.8,"v":20.1},{"i":48.8,"v":18.2},{"i":50.8,"v":14.5},{"i":52.8,"v":10.7},{"i":54.7,"v":16.3},{"i":56.7,"v":12.6},{"i":58.7,"v":7.6},{"i":60.7,"v":12.6},
      {"i":62.7,"v":7.6},{"i":64.8,"v":6.1},{"i":66.9,"v":3.8},{"i":68.1,"v":11.4},{"i":70.1,"v":8.0},{"i":73.1,"v":5.0},{"i":76,"v":2.3},{"i":77,"v":13.7},{"i":78.9,"v":9.9},{"i":80.6,"v":16.3},
      {"i":83,"v":12.6},{"i":85,"v":11.8},{"i":86.4,"v":10.7},{"i":87,"v":27.7},{"i":88.8,"v":21.3},{"i":91,"v":27.7},{"i":91.9,"v":23.1},{"i":93.1,"v":34.2},{"i":95.2,"v":22.8},{"i":96.1,"v":12.6},
      {"i":98.8,"v":8.8},{"i":100,"v":23.1},{"i":102,"v":21.3},{"i":103.4,"v":41.0},{"i":104.9,"v":17.5},{"i":106.4,"v":31.5},{"i":108,"v":39.1},{"i":109.8,"v":32.6},{"i":111.2,"v":26.6},{"i":113.2,"v":31.5},
      {"i":115.1,"v":39.1},{"i":116.6,"v":35.3},{"i":119,"v":22.0},{"i":120,"v":36.4},{"i":121.9,"v":31.5},{"i":124.3,"v":26.6},{"i":126.3,"v":14.5},{"i":127.3,"v":14.5},{"i":129.2,"v":20.1},{"i":130.9,"v":25.6}
    ],
    "dmflags": [
      {"v":37.4,"t":"33,38","kind":"adx"},
      {"v":25.61,"t":"25,61","kind":"minus"},
      {"v":8.77,"t":"8,77","kind":"plus"}
    ]
  },
  "vconcat": [
    {
      "width": 1310,
      "height": 438,
      "layer": [
        {
          "data": {"name": "levels"},
          "mark": {"type": "rule", "color": "#1818a8", "strokeWidth": 1},
          "encoding": {
            "x": {"datum": 7.9, "type": "quantitative", "scale": {"domain": [-1.3, 144.3], "nice": false, "zero": false}, "axis": null},
            "x2": {"datum": 131.9},
            "y": {"field": "v", "type": "quantitative", "scale": {"domain": [1.280333, 1.295865], "nice": false, "zero": false},
              "axis": {"orient": "right", "title": null, "values": [1.281, 1.283, 1.284, 1.285, 1.286, 1.287, 1.289, 1.291, 1.292, 1.293, 1.295], "labelExpr": "replace(format(datum.value, '.4f'), '.', ',')"}}
          }
        },
        {
          "data": {"name": "levels"},
          "mark": {"type": "text", "align": "right", "baseline": "bottom", "dy": -2, "color": "#808080", "fontSize": 11, "font": "Liberation Sans"},
          "encoding": {
            "x": {"datum": 131.9, "type": "quantitative", "scale": {"domain": [-1.3, 144.3], "nice": false, "zero": false}, "axis": null},
            "y": {"field": "v", "type": "quantitative", "scale": {"domain": [1.280333, 1.295865], "nice": false, "zero": false},
              "axis": {"orient": "right", "title": null, "values": [1.281, 1.283, 1.284, 1.285, 1.286, 1.287, 1.289, 1.291, 1.292, 1.293, 1.295], "labelExpr": "replace(format(datum.value, '.4f'), '.', ',')"}},
            "text": {"field": "label"}
          }
        },
        {
          "data": {"values": [{}]},
          "mark": {"type": "rule", "color": "#c8c8c8", "strokeWidth": 1},
          "encoding": {
            "x": {"datum": 6.95, "type": "quantitative", "scale": {"domain": [-1.3, 144.3], "nice": false, "zero": false}, "axis": null}
          }
        },
        {
          "data": {"name": "candles"},
          "mark": {"type": "rule", "color": "#000000", "strokeWidth": 1},
          "encoding": {
            "x": {"field": "i", "type": "quantitative", "scale": {"domain": [-1.3, 144.3], "nice": false, "zero": false}, "axis": null},
            "y": {"field": "l", "type": "quantitative", "scale": {"domain": [1.280333, 1.295865], "nice": false, "zero": false},
              "axis": {"orient": "right", "title": null, "values": [1.281, 1.283, 1.284, 1.285, 1.286, 1.287, 1.289, 1.291, 1.292, 1.293, 1.295], "labelExpr": "replace(format(datum.value, '.4f'), '.', ',')"}},
            "y2": {"field": "h"}
          }
        },
        {
          "data": {"name": "candles"},
          "mark": {"type": "bar", "width": 5, "stroke": "#000000", "strokeWidth": 0.8},
          "encoding": {
            "x": {"field": "i", "type": "quantitative", "scale": {"domain": [-1.3, 144.3], "nice": false, "zero": false}, "axis": null},
            "y": {"field": "o", "type": "quantitative", "scale": {"domain": [1.280333, 1.295865], "nice": false, "zero": false},
              "axis": {"orient": "right", "title": null, "values": [1.281, 1.283, 1.284, 1.285, 1.286, 1.287, 1.289, 1.291, 1.292, 1.293, 1.295], "labelExpr": "replace(format(datum.value, '.4f'), '.', ',')"}},
            "y2": {"field": "c"},
            "fill": {"condition": {"test": "datum.c > datum.o", "value": "#a8e2a2"}, "value": "#a51e1e"}
          }
        },
        {
          "data": {"name": "sma40"},
          "mark": {"type": "line", "color": "#800080", "strokeWidth": 4.5, "strokeDash": [4.5, 4.5], "strokeCap": "butt"},
          "encoding": {
            "x": {"field": "i", "type": "quantitative", "scale": {"domain": [-1.3, 144.3], "nice": false, "zero": false}, "axis": null},
            "y": {"field": "v", "type": "quantitative", "scale": {"domain": [1.280333, 1.295865], "nice": false, "zero": false},
              "axis": {"orient": "right", "title": null, "values": [1.281, 1.283, 1.284, 1.285, 1.286, 1.287, 1.289, 1.291, 1.292, 1.293, 1.295], "labelExpr": "replace(format(datum.value, '.4f'), '.', ',')"}}
          }
        },
        {
          "data": {"name": "sma20"},
          "mark": {"type": "line", "strokeWidth": 2},
          "encoding": {
            "x": {"field": "i", "type": "quantitative", "scale": {"domain": [-1.3, 144.3], "nice": false, "zero": false}, "axis": null},
            "y": {"field": "v", "type": "quantitative", "scale": {"domain": [1.280333, 1.295865], "nice": false, "zero": false},
              "axis": {"orient": "right", "title": null, "values": [1.281, 1.283, 1.284, 1.285, 1.286, 1.287, 1.289, 1.291, 1.292, 1.293, 1.295], "labelExpr": "replace(format(datum.value, '.4f'), '.', ',')"}},
            "detail": {"field": "seg"},
            "color": {"condition": [{"test": "datum.trend == 'down'", "value": "#ff1c1c"}, {"test": "datum.trend == 'up'", "value": "#3cc83c"}], "value": "#9a9a9a"}
          }
        },
        {
          "data": {"name": "sma3"},
          "mark": {"type": "line", "color": "#000000", "strokeWidth": 2},
          "encoding": {
            "x": {"field": "i", "type": "quantitative", "scale": {"domain": [-1.3, 144.3], "nice": false, "zero": false}, "axis": null},
            "y": {"field": "v", "type": "quantitative", "scale": {"domain": [1.280333, 1.295865], "nice": false, "zero": false},
              "axis": {"orient": "right", "title": null, "values": [1.281, 1.283, 1.284, 1.285, 1.286, 1.287, 1.289, 1.291, 1.292, 1.293, 1.295], "labelExpr": "replace(format(datum.value, '.4f'), '.', ',')"}}
          }
        },
        {
          "data": {"values": [{}]},
          "mark": {"type": "text", "align": "left", "baseline": "middle", "font": "Liberation Sans", "fontSize": 11, "color": "#000000", "limit": 1300,
            "text": "SMA(6E 12-12 (10 Min),3), SMA_Colors(6E 12-12 (10 Min),1,1,14), MASlopeMulti(6E 12-12 (10 Min),0,5,None,3,3,1,1,255,6,Close,20,Color [Red],Color [DarkRed],Color [Black],Color [OrangeRed],120,Color [OrangeRed],Color [Olive],120,Color [Olive],3,3,10,10,0,0,"},
          "encoding": {
            "x": {"datum": -1.0, "type": "quantitative", "scale": {"domain": [-1.3, 144.3], "nice": false, "zero": false}, "axis": null},
            "y": {"datum": 1.29551, "type": "quantitative", "scale": {"domain": [1.280333, 1.295865], "nice": false, "zero": false},
              "axis": {"orient": "right", "title": null, "values": [1.281, 1.283, 1.284, 1.285, 1.286, 1.287, 1.289, 1.291, 1.292, 1.293, 1.295], "labelExpr": "replace(format(datum.value, '.4f'), '.', ',')"}}
          }
        },
        {
          "data": {"values": [{}]},
          "mark": {"type": "rect", "fill": "#0b0bd0", "stroke": "#9090ff", "strokeWidth": 1},
          "encoding": {
            "x": {"datum": -0.65, "type": "quantitative", "scale": {"domain": [-1.3, 144.3], "nice": false, "zero": false}, "axis": null},
            "x2": {"datum": 9.6},
            "y": {"datum": 1.29512, "type": "quantitative", "scale": {"domain": [1.280333, 1.295865], "nice": false, "zero": false},
              "axis": {"orient": "right", "title": null, "values": [1.281, 1.283, 1.284, 1.285, 1.286, 1.287, 1.289, 1.291, 1.292, 1.293, 1.295], "labelExpr": "replace(format(datum.value, '.4f'), '.', ',')"}},
            "y2": {"datum": 1.294376}
          }
        },
        {
          "data": {"values": [{}]},
          "mark": {"type": "text", "text": "End Trend!", "align": "center", "baseline": "middle", "font": "Liberation Sans", "fontSize": 15, "fontWeight": "bold", "color": "#ffffff"},
          "encoding": {
            "x": {"datum": 4.5, "type": "quantitative", "scale": {"domain": [-1.3, 144.3], "nice": false, "zero": false}, "axis": null},
            "y": {"datum": 1.29475, "type": "quantitative", "scale": {"domain": [1.280333, 1.295865], "nice": false, "zero": false},
              "axis": {"orient": "right", "title": null, "values": [1.281, 1.283, 1.284, 1.285, 1.286, 1.287, 1.289, 1.291, 1.292, 1.293, 1.295], "labelExpr": "replace(format(datum.value, '.4f'), '.', ',')"}}
          }
        },
        {
          "data": {"values": [{}]},
          "mark": {"type": "text", "text": "0°  SMA40", "align": "center", "baseline": "middle", "font": "Liberation Sans", "fontSize": 16, "fontWeight": "bold", "color": "#1010c8"},
          "encoding": {
            "x": {"datum": 138.6, "type": "quantitative", "scale": {"domain": [-1.3, 144.3], "nice": false, "zero": false}, "axis": null},
            "y": {"datum": 1.28179, "type": "quantitative", "scale": {"domain": [1.280333, 1.295865], "nice": false, "zero": false},
              "axis": {"orient": "right", "title": null, "values": [1.281, 1.283, 1.284, 1.285, 1.286, 1.287, 1.289, 1.291, 1.292, 1.293, 1.295], "labelExpr": "replace(format(datum.value, '.4f'), '.', ',')"}}
          }
        },
        {
          "data": {"values": [{}]},
          "mark": {"type": "point", "shape": "M-0.8,-1L0.8,0L-0.8,1Z", "size": 361, "filled": false, "stroke": "#000000", "strokeWidth": 1.2, "opacity": 1},
          "encoding": {
            "x": {"datum": 142.1, "type": "quantitative", "scale": {"domain": [-1.3, 144.3], "nice": false, "zero": false}, "axis": null},
            "y": {"datum": 1.295245, "type": "quantitative", "scale": {"domain": [1.280333, 1.295865], "nice": false, "zero": false},
              "axis": {"orient": "right", "title": null, "values": [1.281, 1.283, 1.284, 1.285, 1.286, 1.287, 1.289, 1.291, 1.292, 1.293, 1.295], "labelExpr": "replace(format(datum.value, '.4f'), '.', ',')"}}
          }
        },
        {
          "data": {"values": [{}]},
          "mark": {"type": "rect", "fill": "#ffffff", "stroke": "#000000", "strokeWidth": 1},
          "encoding": {
            "x": {"datum": 143.05, "type": "quantitative", "scale": {"domain": [-1.3, 144.3], "nice": false, "zero": false}, "axis": null},
            "x2": {"datum": 143.5},
            "y": {"datum": 1.29558, "type": "quantitative", "scale": {"domain": [1.280333, 1.295865], "nice": false, "zero": false},
              "axis": {"orient": "right", "title": null, "values": [1.281, 1.283, 1.284, 1.285, 1.286, 1.287, 1.289, 1.291, 1.292, 1.293, 1.295], "labelExpr": "replace(format(datum.value, '.4f'), '.', ',')"}},
            "y2": {"datum": 1.29491}
          }
        },
        {
          "data": {"name": "pflags"},
          "mark": {"type": "point", "shape": "M-1,0L-0.78,-0.304L1,-0.304L1,0.304L-0.78,0.304Z", "size": 2116, "filled": true, "opacity": 1, "strokeWidth": 0},
          "encoding": {
            "x": {"datum": 146.97, "type": "quantitative", "scale": {"domain": [-1.3, 144.3], "nice": false, "zero": false}, "axis": null},
            "y": {"field": "v", "type": "quantitative", "scale": {"domain": [1.280333, 1.295865], "nice": false, "zero": false},
              "axis": {"orient": "right", "title": null, "values": [1.281, 1.283, 1.284, 1.285, 1.286, 1.287, 1.289, 1.291, 1.292, 1.293, 1.295], "labelExpr": "replace(format(datum.value, '.4f'), '.', ',')"}},
            "color": {"condition": [{"test": "datum.kind == 'level'", "value": "#0a0ad2"}, {"test": "datum.kind == 'sma20'", "value": "#e81010"}], "value": "#000000"}
          }
        },
        {
          "data": {"name": "pflags"},
          "mark": {"type": "text", "align": "left", "baseline": "middle", "font": "Liberation Sans", "fontSize": 11, "color": "#ffffff"},
          "encoding": {
            "x": {"datum": 145.2, "type": "quantitative", "scale": {"domain": [-1.3, 144.3], "nice": false, "zero": false}, "axis": null},
            "y": {"field": "v", "type": "quantitative", "scale": {"domain": [1.280333, 1.295865], "nice": false, "zero": false},
              "axis": {"orient": "right", "title": null, "values": [1.281, 1.283, 1.284, 1.285, 1.286, 1.287, 1.289, 1.291, 1.292, 1.293, 1.295], "labelExpr": "replace(format(datum.value, '.4f'), '.', ',')"}},
            "text": {"field": "t"}
          }
        }
      ]
    },
    {
      "width": 1310,
      "height": 54,
      "layer": [
        {
          "data": {"values": [{}]},
          "mark": {"type": "rule", "color": "#c8c8c8", "strokeWidth": 1},
          "encoding": {
            "x": {"datum": 6.95, "type": "quantitative", "scale": {"domain": [-1.3, 144.3], "nice": false, "zero": false}, "axis": null}
          }
        },
        {
          "data": {"name": "force"},
          "mark": {"type": "bar", "width": 3},
          "encoding": {
            "x": {"field": "i", "type": "quantitative", "scale": {"domain": [-1.3, 144.3], "nice": false, "zero": false}, "axis": null},
            "y": {"field": "v", "type": "quantitative", "scale": {"domain": [-14.3, 39.7], "nice": false, "zero": false}, "axis": null},
            "y2": {"datum": 0},
            "color": {"condition": {"test": "datum.v >= 0", "value": "#0000ff"}, "value": "#ff0000"}
          }
        },
        {
          "data": {"values": [{}]},
          "mark": {"type": "rule", "color": "#00005a", "strokeWidth": 3},
          "encoding": {
            "x": {"datum": -1.13, "type": "quantitative", "scale": {"domain": [-1.3, 144.3], "nice": false, "zero": false}, "axis": null},
            "x2": {"datum": 144.13},
            "y": {"datum": 0, "type": "quantitative", "scale": {"domain": [-14.3, 39.7], "nice": false, "zero": false}, "axis": null}
          }
        },
        {
          "data": {"values": [{}]},
          "mark": {"type": "text", "text": "Force_Index_v02(6E 12-12 (10 Min),EMA,13,EMA,13)", "align": "left", "baseline": "middle", "font": "Liberation Sans", "fontSize": 11, "color": "#000000"},
          "encoding": {
            "x": {"datum": -0.9, "type": "quantitative", "scale": {"domain": [-1.3, 144.3], "nice": false, "zero": false}, "axis": null},
            "y": {"datum": 22.7, "type": "quantitative", "scale": {"domain": [-14.3, 39.7], "nice": false, "zero": false}, "axis": null}
          }
        },
        {
          "data": {"values": [{"v": 0, "t": "-0,181"}]},
          "mark": {"type": "point", "shape": "M-1,0L-0.74,-0.35L1,-0.35L1,0.35L-0.74,0.35Z", "size": 1600, "filled": true, "opacity": 1, "strokeWidth": 0, "color": "#e81010"},
          "encoding": {
            "x": {"datum": 146.8, "type": "quantitative", "scale": {"domain": [-1.3, 144.3], "nice": false, "zero": false}, "axis": null},
            "y": {"field": "v", "type": "quantitative", "scale": {"domain": [-14.3, 39.7], "nice": false, "zero": false}, "axis": null}
          }
        },
        {
          "data": {"values": [{"v": 0, "t": "-0,181"}]},
          "mark": {"type": "text", "align": "left", "baseline": "middle", "font": "Liberation Sans", "fontSize": 11, "color": "#ffffff"},
          "encoding": {
            "x": {"datum": 145.2, "type": "quantitative", "scale": {"domain": [-1.3, 144.3], "nice": false, "zero": false}, "axis": null},
            "y": {"field": "v", "type": "quantitative", "scale": {"domain": [-14.3, 39.7], "nice": false, "zero": false}, "axis": null},
            "text": {"field": "t"}
          }
        }
      ]
    },
    {
      "width": 1310,
      "height": 54,
      "layer": [
        {
          "data": {"values": [{}]},
          "mark": {"type": "rule", "color": "#c8c8c8", "strokeWidth": 1},
          "encoding": {
            "x": {"datum": 6.95, "type": "quantitative", "scale": {"domain": [-1.3, 144.3], "nice": false, "zero": false}, "axis": null}
          }
        },
        {
          "data": {"name": "adx"},
          "mark": {"type": "bar", "width": 4},
          "encoding": {
            "x": {"field": "i", "type": "quantitative", "scale": {"domain": [-1.3, 144.3], "nice": false, "zero": false}, "axis": null},
            "y": {"field": "v", "type": "quantitative", "scale": {"domain": [-11.2, 78.8], "nice": false, "zero": false}, "axis": {"orient": "right", "title": null, "values": [0]}},
            "y2": {"datum": 0},
            "color": {"condition": {"test": "datum.d == 'up'", "value": "#0000ff"}, "value": "#ff0000"}
          }
        },
        {
          "data": {"values": [{"v": 40, "line": "upper"}, {"v": 20, "line": "lower"}]},
          "mark": {"type": "rule", "strokeWidth": 1},
          "encoding": {
            "y": {"field": "v", "type": "quantitative", "scale": {"domain": [-11.2, 78.8], "nice": false, "zero": false}, "axis": {"orient": "right", "title": null, "values": [0]}},
            "color": {"condition": {"test": "datum.line == 'upper'", "value": "#008000"}, "value": "#e00000"}
          }
        },
        {
          "data": {"values": [{}]},
          "mark": {"type": "text", "text": "JeffsADXv2(6E 12-12 (10 Min),10)", "align": "left", "baseline": "middle", "font": "Liberation Sans", "fontSize": 11, "color": "#000000"},
          "encoding": {
            "x": {"datum": -0.9, "type": "quantitative", "scale": {"domain": [-1.3, 144.3], "nice": false, "zero": false}, "axis": null},
            "y": {"datum": 50.5, "type": "quantitative", "scale": {"domain": [-11.2, 78.8], "nice": false, "zero": false}, "axis": {"orient": "right", "title": null, "values": [0]}}
          }
        },
        {
          "data": {"values": [{"v": 21.22, "t": "21,22"}]},
          "mark": {"type": "point", "shape": "M-1,0L-0.74,-0.37L1,-0.37L1,0.37L-0.74,0.37Z", "size": 1444, "filled": true, "opacity": 1, "strokeWidth": 0, "color": "#0a0ad2"},
          "encoding": {
            "x": {"datum": 146.7, "type": "quantitative", "scale": {"domain": [-1.3, 144.3], "nice": false, "zero": false}, "axis": null},
            "y": {"field": "v", "type": "quantitative", "scale": {"domain": [-11.2, 78.8], "nice": false, "zero": false}, "axis": {"orient": "right", "title": null, "values": [0]}}
          }
        },
        {
          "data": {"values": [{"v": 21.22, "t": "21,22"}]},
          "mark": {"type": "text", "align": "left", "baseline": "middle", "font": "Liberation Sans", "fontSize": 11, "color": "#ffffff"},
          "encoding": {
            "x": {"datum": 145.4, "type": "quantitative", "scale": {"domain": [-1.3, 144.3], "nice": false, "zero": false}, "axis": null},
            "y": {"field": "v", "type": "quantitative", "scale": {"domain": [-11.2, 78.8], "nice": false, "zero": false}, "axis": {"orient": "right", "title": null, "values": [0]}},
            "text": {"field": "t"}
          }
        }
      ]
    },
    {
      "width": 1310,
      "height": 84,
      "layer": [
        {
          "data": {"values": [{}]},
          "mark": {"type": "rule", "color": "#c8c8c8", "strokeWidth": 1},
          "encoding": {
            "x": {"datum": 6.95, "type": "quantitative", "scale": {"domain": [-1.3, 144.3], "nice": false, "zero": false},
              "axis": {"orient": "bottom", "title": null, "tickSize": 4, "labelPadding": 3, "labelFlush": false, "labelOverlap": false, "values": [1, 7, 13, 19, 25, 31, 37, 43, 49, 55, 61, 67, 73, 79, 85, 91, 97, 103, 109, 115, 121, 127, 133, 139], "labelExpr": "datum.value == 1 ? '22:00' : datum.value == 7 ? '23:00' : datum.value == 13 ? '10/1' : datum.value == 19 ? '' : (((3 + (datum.value - 25) / 6) < 10 ? '0' : '') + (3 + (datum.value - 25) / 6) + ':00')"}}
          }
        },
        {
          "data": {"values": [{"v": 40, "line": "upper"}, {"v": 25, "line": "lower"}]},
          "mark": {"type": "rule", "strokeWidth": 1},
          "encoding": {
            "y": {"field": "v", "type": "quantitative", "scale": {"domain": [-2.6, 92.8], "nice": false, "zero": false}, "axis": {"orient": "right", "title": null, "values": [50]}},
            "color": {"condition": {"test": "datum.line == 'upper'", "value": "#8b0000"}, "value": "#9a00d0"}
          }
        },
        {
          "data": {"name": "dmr"},
          "mark": {"type": "line", "color": "#ff2020", "strokeWidth": 1},
          "encoding": {
            "x": {"field": "i", "type": "quantitative", "scale": {"domain": [-1.3, 144.3], "nice": false, "zero": false},
              "axis": {"orient": "bottom", "title": null, "tickSize": 4, "labelPadding": 3, "labelFlush": false, "labelOverlap": false, "values": [1, 7, 13, 19, 25, 31, 37, 43, 49, 55, 61, 67, 73, 79, 85, 91, 97, 103, 109, 115, 121, 127, 133, 139], "labelExpr": "datum.value == 1 ? '22:00' : datum.value == 7 ? '23:00' : datum.value == 13 ? '10/1' : datum.value == 19 ? '' : (((3 + (datum.value - 25) / 6) < 10 ? '0' : '') + (3 + (datum.value - 25) / 6) + ':00')"}},
            "y": {"field": "v", "type": "quantitative", "scale": {"domain": [-2.6, 92.8], "nice": false, "zero": false}, "axis": {"orient": "right", "title": null, "values": [50]}}
          }
        },
        {
          "data": {"name": "dmb"},
          "mark": {"type": "line", "color": "#2020ff", "strokeWidth": 1},
          "encoding": {
            "x": {"field": "i", "type": "quantitative", "scale": {"domain": [-1.3, 144.3], "nice": false, "zero": false},
              "axis": {"orient": "bottom", "title": null, "tickSize": 4, "labelPadding": 3, "labelFlush": false, "labelOverlap": false, "values": [1, 7, 13, 19, 25, 31, 37, 43, 49, 55, 61, 67, 73, 79, 85, 91, 97, 103, 109, 115, 121, 127, 133, 139], "labelExpr": "datum.value == 1 ? '22:00' : datum.value == 7 ? '23:00' : datum.value == 13 ? '10/1' : datum.value == 19 ? '' : (((3 + (datum.value - 25) / 6) < 10 ? '0' : '') + (3 + (datum.value - 25) / 6) + ':00')"}},
            "y": {"field": "v", "type": "quantitative", "scale": {"domain": [-2.6, 92.8], "nice": false, "zero": false}, "axis": {"orient": "right", "title": null, "values": [50]}}
          }
        },
        {
          "data": {"name": "dmg"},
          "mark": {"type": "line", "strokeWidth": 3.5},
          "encoding": {
            "x": {"field": "i", "type": "quantitative", "scale": {"domain": [-1.3, 144.3], "nice": false, "zero": false},
              "axis": {"orient": "bottom", "title": null, "tickSize": 4, "labelPadding": 3, "labelFlush": false, "labelOverlap": false, "values": [1, 7, 13, 19, 25, 31, 37, 43, 49, 55, 61, 67, 73, 79, 85, 91, 97, 103, 109, 115, 121, 127, 133, 139], "labelExpr": "datum.value == 1 ? '22:00' : datum.value == 7 ? '23:00' : datum.value == 13 ? '10/1' : datum.value == 19 ? '' : (((3 + (datum.value - 25) / 6) < 10 ? '0' : '') + (3 + (datum.value - 25) / 6) + ':00')"}},
            "y": {"field": "v", "type": "quantitative", "scale": {"domain": [-2.6, 92.8], "nice": false, "zero": false}, "axis": {"orient": "right", "title": null, "values": [50]}},
            "detail": {"field": "seg"},
            "color": {"condition": {"test": "datum.tone == 'orange'", "value": "#ffa500"}, "value": "#136b13"}
          }
        },
        {
          "data": {"values": [{}]},
          "mark": {"type": "text", "text": "DMplus_v3a(6E 12-12 (10 Min),5)", "align": "left", "baseline": "middle", "font": "Liberation Sans", "fontSize": 11, "color": "#000000"},
          "encoding": {
            "x": {"datum": -0.9, "type": "quantitative", "scale": {"domain": [-1.3, 144.3], "nice": false, "zero": false},
              "axis": {"orient": "bottom", "title": null, "tickSize": 4, "labelPadding": 3, "labelFlush": false, "labelOverlap": false, "values": [1, 7, 13, 19, 25, 31, 37, 43, 49, 55, 61, 67, 73, 79, 85, 91, 97, 103, 109, 115, 121, 127, 133, 139], "labelExpr": "datum.value == 1 ? '22:00' : datum.value == 7 ? '23:00' : datum.value == 13 ? '10/1' : datum.value == 19 ? '' : (((3 + (datum.value - 25) / 6) < 10 ? '0' : '') + (3 + (datum.value - 25) / 6) + ':00')"}},
            "y": {"datum": 73.5, "type": "quantitative", "scale": {"domain": [-2.6, 92.8], "nice": false, "zero": false}, "axis": {"orient": "right", "title": null, "values": [50]}}
          }
        },
        {
          "data": {"values": [{}]},
          "mark": {"type": "text", "text": "© 2012 NinjaTrader, LLC", "align": "left", "baseline": "middle", "font": "Liberation Sans", "fontSize": 11, "color": "#000000"},
          "encoding": {
            "x": {"datum": -0.9, "type": "quantitative", "scale": {"domain": [-1.3, 144.3], "nice": false, "zero": false},
              "axis": {"orient": "bottom", "title": null, "tickSize": 4, "labelPadding": 3, "labelFlush": false, "labelOverlap": false, "values": [1, 7, 13, 19, 25, 31, 37, 43, 49, 55, 61, 67, 73, 79, 85, 91, 97, 103, 109, 115, 121, 127, 133, 139], "labelExpr": "datum.value == 1 ? '22:00' : datum.value == 7 ? '23:00' : datum.value == 13 ? '10/1' : datum.value == 19 ? '' : (((3 + (datum.value - 25) / 6) < 10 ? '0' : '') + (3 + (datum.value - 25) / 6) + ':00')"}},
            "y": {"datum": 5.3, "type": "quantitative", "scale": {"domain": [-2.6, 92.8], "nice": false, "zero": false}, "axis": {"orient": "right", "title": null, "values": [50]}}
          }
        },
        {
          "data": {"name": "dmflags"},
          "mark": {"type": "point", "shape": "M-1,0L-0.74,-0.37L1,-0.37L1,0.37L-0.74,0.37Z", "size": 1444, "filled": true, "opacity": 1, "strokeWidth": 0},
          "encoding": {
            "x": {"datum": 146.7, "type": "quantitative", "scale": {"domain": [-1.3, 144.3], "nice": false, "zero": false},
              "axis": {"orient": "bottom", "title": null, "tickSize": 4, "labelPadding": 3, "labelFlush": false, "labelOverlap": false, "values": [1, 7, 13, 19, 25, 31, 37, 43, 49, 55, 61, 67, 73, 79, 85, 91, 97, 103, 109, 115, 121, 127, 133, 139], "labelExpr": "datum.value == 1 ? '22:00' : datum.value == 7 ? '23:00' : datum.value == 13 ? '10/1' : datum.value == 19 ? '' : (((3 + (datum.value - 25) / 6) < 10 ? '0' : '') + (3 + (datum.value - 25) / 6) + ':00')"}},
            "y": {"field": "v", "type": "quantitative", "scale": {"domain": [-2.6, 92.8], "nice": false, "zero": false}, "axis": {"orient": "right", "title": null, "values": [50]}},
            "color": {"condition": [{"test": "datum.kind == 'adx'", "value": "#136b13"}, {"test": "datum.kind == 'minus'", "value": "#e81010"}], "value": "#0a0ad2"}
          }
        },
        {
          "data": {"name": "dmflags"},
          "mark": {"type": "text", "align": "left", "baseline": "middle", "font": "Liberation Sans", "fontSize": 10, "color": "#ffffff"},
          "encoding": {
            "x": {"datum": 145.4, "type": "quantitative", "scale": {"domain": [-1.3, 144.3], "nice": false, "zero": false},
              "axis": {"orient": "bottom", "title": null, "tickSize": 4, "labelPadding": 3, "labelFlush": false, "labelOverlap": false, "values": [1, 7, 13, 19, 25, 31, 37, 43, 49, 55, 61, 67, 73, 79, 85, 91, 97, 103, 109, 115, 121, 127, 133, 139], "labelExpr": "datum.value == 1 ? '22:00' : datum.value == 7 ? '23:00' : datum.value == 13 ? '10/1' : datum.value == 19 ? '' : (((3 + (datum.value - 25) / 6) < 10 ? '0' : '') + (3 + (datum.value - 25) / 6) + ':00')"}},
            "y": {"field": "v", "type": "quantitative", "scale": {"domain": [-2.6, 92.8], "nice": false, "zero": false}, "axis": {"orient": "right", "title": null, "values": [50]}},
            "text": {"field": "t"}
          }
        }
      ]
    }
  ]
}
